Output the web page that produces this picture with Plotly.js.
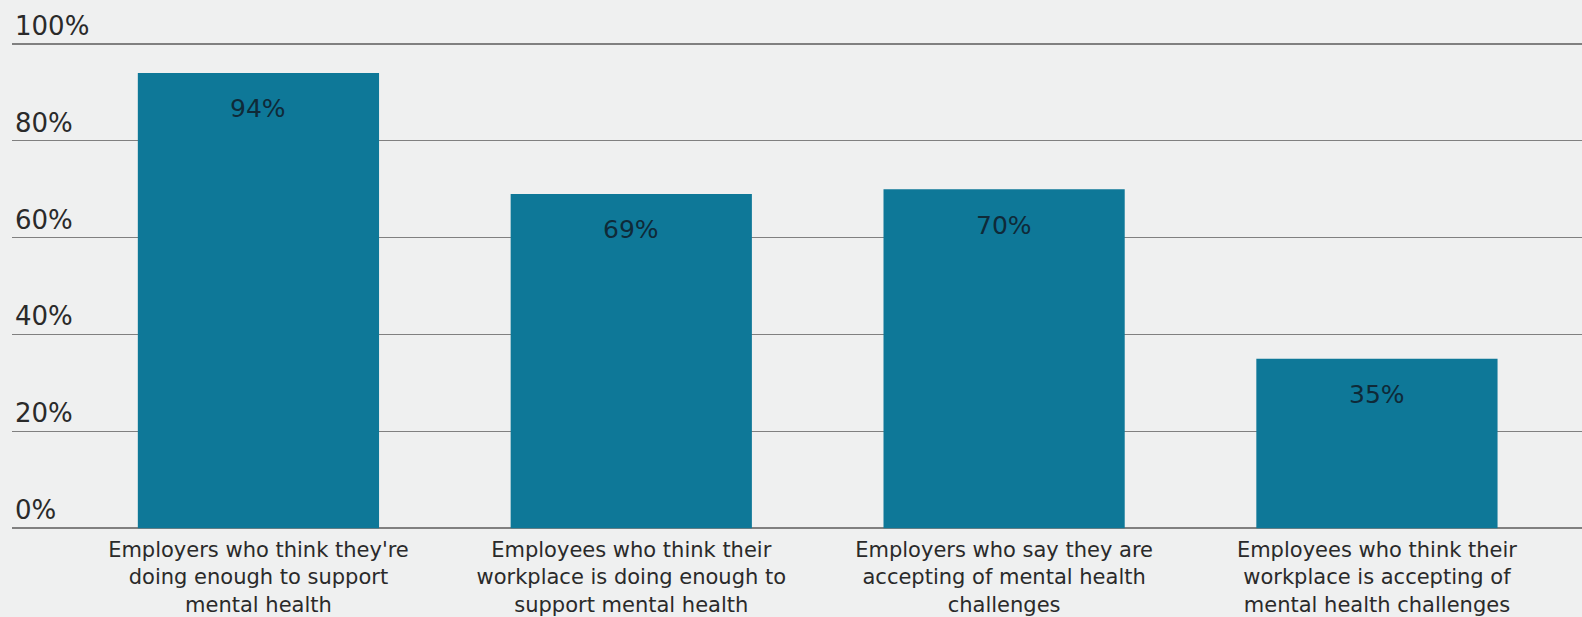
<!DOCTYPE html>
<html>
<head>
<meta charset="utf-8">
<script src="https://cdn.plot.ly/plotly-3.0.1.min.js"></script>
<style>
  html, body { margin: 0; padding: 0; background: #eff0f0; }
  #chart { width: 1582px; height: 617px; }
</style>
</head>
<body>
<div id="chart"></div>
<script>
const categories = [
  "Employers who think they're<br>doing enough to support<br>mental health",
  "Employees who think their<br>workplace is doing enough to<br>support mental health",
  "Employers who say they are<br>accepting of mental health<br>challenges",
  "Employees who think their<br>workplace is accepting of<br>mental health challenges"
];
const values = [94, 69, 70, 35];
const valueLabels = ["94%", "69%", "70%", "35%"];
const yTickVals = [0, 20, 40, 60, 80, 100];
const yTickText = ["0%", "20%", "40%", "60%", "80%", "100%"];

const FONT = "'DejaVu Sans', 'Open Sans', sans-serif";

const trace = {
  type: "bar",
  x: [0, 1, 2, 3],
  y: values,
  marker: { color: "#0e7898" },
  hoverinfo: "skip"
};

const annotations = [];
yTickVals.forEach((v, i) => {
  annotations.push({
    xref: "paper", yref: "y", x: 0, y: v,
    xanchor: "left", yanchor: "middle",
    xshift: 1, yshift: 18,
    text: yTickText[i], showarrow: false,
    font: { family: FONT, size: 26, color: "#2a2a2a" }
  });
});
values.forEach((v, i) => {
  annotations.push({
    xref: "x", yref: "y", x: i, y: v,
    xanchor: "center", yanchor: "middle",
    yshift: -36,
    text: valueLabels[i], showarrow: false,
    font: { family: FONT, size: 25, color: "#0f2a38" }
  });
});

const layout = {
  width: 1582, height: 617,
  margin: { l: 12, r: 0, t: 39.16, b: 84.16 },
  paper_bgcolor: "#eff0f0",
  plot_bgcolor: "#eff0f0",
  bargap: 0.353,
  showlegend: false,
  xaxis: {
    range: [-0.661, 3.55],
    tickvals: [0, 1, 2, 3],
    ticktext: categories,
    tickfont: { family: FONT, size: 21, color: "#2a2a2a" },
    ticklabelstandoff: 2,
    showgrid: false, zeroline: false, showline: false,
    ticks: "", fixedrange: true
  },
  yaxis: {
    range: [-1, 101],
    tickvals: yTickVals,
    showticklabels: false,
    showgrid: true, gridcolor: "#808080", gridwidth: 1.5,
    zeroline: false, showline: false, ticks: "", fixedrange: true
  },
  annotations: annotations
};

Plotly.newPlot("chart", [trace], layout, { displayModeBar: false, staticPlot: true });
</script>
</body>
</html>
